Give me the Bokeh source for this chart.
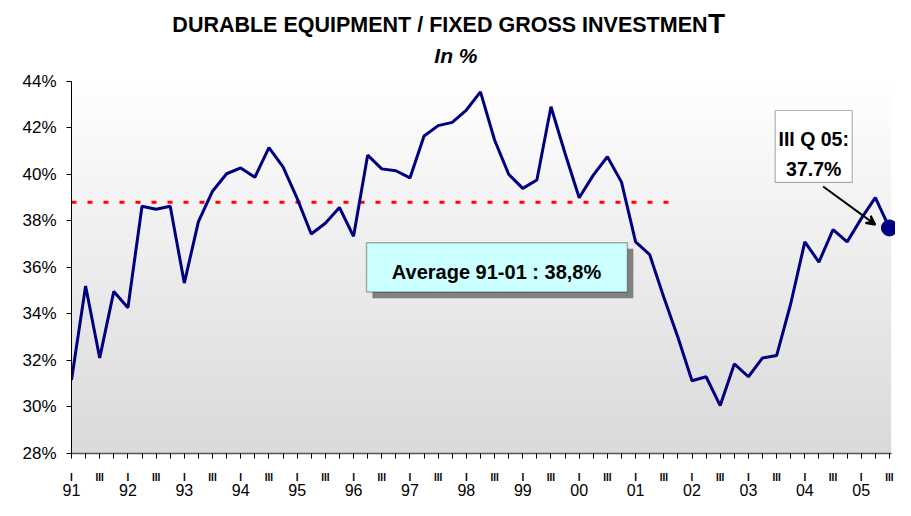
import numpy as np
from bokeh.plotting import figure
from bokeh.embed import file_html
from bokeh.resources import INLINE
from bokeh.models import (Range1d, LinearAxis, FixedTicker, PrintfTickFormatter,
                          BoxAnnotation, Label, Arrow, VeeHead)

# ---------------- data ----------------
years = ["91", "92", "93", "94", "95", "96", "97", "98", "99", "00", "01", "02", "03", "04", "05"]
quarter_labels = ["I", "", "III", ""]
# quarterly share of durable equipment in fixed gross investment (%), 1991 Q1 .. 2005 Q3
share = [31.16, 35.2, 32.11, 34.97, 34.27, 38.63, 38.5, 38.63, 35.33, 37.97,
         39.28, 40.03, 40.28, 39.88, 41.15, 40.33, 38.97, 37.44, 37.9, 38.58,
         37.34, 40.83, 40.24, 40.16, 39.85, 41.65, 42.1, 42.24, 42.77, 43.55,
         41.48, 40.01, 39.4, 39.76, 42.91, 40.9, 39.0, 39.97, 40.76, 39.67,
         37.1, 36.55, 34.72, 33.0, 31.13, 31.3, 30.06, 31.85, 31.3, 32.11,
         32.21, 34.44, 37.1, 36.23, 37.63, 37.1, 38.1, 39.0, 37.7]
average_value = 38.8          # average 91-01
average_quarters = [0, 43]    # 1991 Q1 .. 2001 Q4
y_ticks = [28, 30, 32, 34, 36, 38, 40, 42, 44]

x = list(range(len(share)))
FONT = "Liberation Sans"

X_END = 58.43
Y_END = 47.48
AX_X_END = 58.12

p = figure(width=895, height=500, output_backend="svg", toolbar_location=None,
           x_range=Range1d(0, X_END), y_range=Range1d(28, Y_END),
           min_border_left=71, min_border_right=0, min_border_top=0, min_border_bottom=47)
p.outline_line_color = None
p.xgrid.grid_line_color = None
p.ygrid.grid_line_color = None
p.background_fill_color = "white"
p.border_fill_color = "white"

# gradient background of the plot area
n = 372
img = np.empty((n, 1), dtype=np.uint32)
view = img.view(dtype=np.uint8).reshape((n, 1, 4))
g = np.linspace(218, 255, n).astype(np.uint8)
view[:, 0, 0] = g
view[:, 0, 1] = g
view[:, 0, 2] = g
view[:, 0, 3] = 255
p.image_rgba(image=[img], x=0, y=28, dw=AX_X_END, dh=16)

# average dashed line
p.line(x=average_quarters, y=[average_value, average_value], line_color="#FF0000",
       line_width=3, line_dash="5 11")

# main series
p.line(x=x, y=share, line_color="#000080", line_width=3)
p.scatter(x=[x[-1]], y=[share[-1]], size=16, color="#000080")

# axes
yax = p.yaxis[0]
yax.ticker = FixedTicker(ticks=y_ticks, minor_ticks=[])
yax.formatter = PrintfTickFormatter(format="%d%%")
yax.bounds = (28, 44)
yax.major_tick_out = 5
yax.major_tick_in = 0
yax.major_label_standoff = 10
yax.major_label_text_font = FONT
yax.major_label_text_font_size = "17px"
yax.major_label_text_color = "black"
yax.axis_line_color = "black"
yax.major_tick_line_color = "black"

xax = p.xaxis[0]
xax.ticker = FixedTicker(ticks=x, minor_ticks=[])
xax.major_label_overrides = {i: quarter_labels[i % 4] for i in x}
xax.bounds = (0, AX_X_END)
xax.major_tick_out = 5
xax.major_tick_in = 0
xax.major_label_standoff = 13
xax.major_label_text_font = FONT
xax.major_label_text_font_size = "10px"
xax.major_label_text_font_style = "bold"
xax.major_label_text_color = "black"
xax.axis_line_color = "#555555"
xax.axis_line_width = 1.5
xax.major_tick_line_color = "black"

year_ticks = [i * 4 for i in range(len(years))]
yr_ax = LinearAxis(ticker=FixedTicker(ticks=year_ticks, minor_ticks=[]),
                   major_label_overrides={t: y for t, y in zip(year_ticks, years)})
yr_ax.axis_line_color = None
yr_ax.major_tick_line_color = None
yr_ax.major_tick_out = 0
yr_ax.major_tick_in = 0
yr_ax.major_label_standoff = -2
yr_ax.major_label_text_font = FONT
yr_ax.major_label_text_font_size = "16px"
yr_ax.major_label_text_color = "black"
p.add_layout(yr_ax, "below")

# average annotation box with shadow
dx, dy = 0.42, 0.26
p.add_layout(BoxAnnotation(left=20.92 + dx, right=39.42 + dx, top=37.06 - dy, bottom=34.94 - dy,
                           fill_color="#808080", fill_alpha=1, line_color=None, level="annotation"))
p.add_layout(BoxAnnotation(left=20.92, right=39.42, top=37.06, bottom=34.94,
                           fill_color="#CCFFFF", fill_alpha=1, line_color="black", line_width=1.5,
                           level="annotation"))
p.add_layout(Label(x=30.14, y=35.80, text="Average 91-01 : 38,8%", text_align="center",
                   text_baseline="alphabetic", text_font=FONT, text_font_style="bold",
                   text_font_size="20px", text_color="black"))

# last value annotation
p.add_layout(BoxAnnotation(left=49.9, right=55.36, top=42.75, bottom=39.66,
                           fill_color="white", fill_alpha=1, line_color="black", line_width=1.2,
                           level="annotation"))
p.add_layout(Label(x=52.63, y=41.54, text="III Q 05:", text_align="center",
                   text_baseline="alphabetic", text_font=FONT, text_font_style="bold",
                   text_font_size="19.5px", text_color="black"))
p.add_layout(Label(x=52.63, y=40.22, text="37.7%", text_align="center",
                   text_baseline="alphabetic", text_font=FONT, text_font_style="bold",
                   text_font_size="19.5px", text_color="black"))
p.add_layout(Arrow(x_start=53.3, y_start=39.48, x_end=57.0, y_end=37.84,
                   line_color="black", line_width=2,
                   end=VeeHead(size=9, line_color="black", line_width=2)))

# titles (inside the frame area above the 44% line)
p.add_layout(Label(x=45.1, y=46.41, text="DURABLE EQUIPMENT / FIXED GROSS INVESTMEN",
                   text_align="right", text_baseline="alphabetic", text_font=FONT,
                   text_font_style="bold", text_font_size="21.5px", text_color="black"))
p.add_layout(Label(x=45.13, y=46.48, text="T", text_align="left", text_baseline="alphabetic",
                   text_font=FONT, text_font_style="bold", text_font_size="28px",
                   text_color="black"))
p.add_layout(Label(x=27.26, y=45.12, text="In %", text_align="center", text_baseline="alphabetic",
                   text_font=FONT, text_font_style="bold italic", text_font_size="21px",
                   text_color="black"))

open("out.html", "w").write(file_html(p, INLINE))
